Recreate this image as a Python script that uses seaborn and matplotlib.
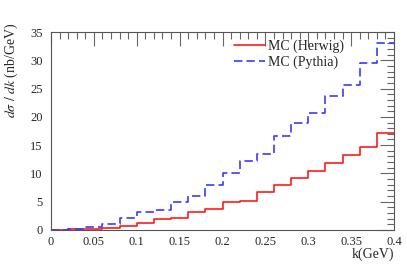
import numpy as np
import pandas as pd
import matplotlib
matplotlib.use("Agg")
import matplotlib.pyplot as plt
import seaborn as sns
from matplotlib.ticker import MultipleLocator

# bin edges in k (GeV), 0.02 wide
bin_edges = [0.00, 0.02, 0.04, 0.06, 0.08, 0.10, 0.12, 0.14, 0.16, 0.18, 0.20,
             0.22, 0.24, 0.26, 0.28, 0.30, 0.32, 0.34, 0.36, 0.38, 0.40]
herwig = [0.0, 0.1, 0.2, 0.3, 0.65, 1.3, 1.9, 2.2, 3.1, 3.8,
          4.9, 5.2, 6.7, 7.9, 9.2, 10.5, 11.8, 13.3, 14.7, 17.1]
pythia = [0.05, 0.2, 0.5, 1.1, 2.1, 3.2, 3.5, 4.9, 6.0, 8.0,
          10.1, 12.2, 13.5, 16.6, 19.0, 20.7, 23.7, 25.7, 29.6, 33.1]
labels = ["MC (Herwig)", "MC (Pythia)"]
xtick_labels = ["0", "0.05", "0.1", "0.15", "0.2", "0.25", "0.3", "0.35", "0.4"]

rows = []
for lab, vals in zip(labels, [herwig, pythia]):
    v = list(vals) + [vals[-1]]
    for x, y in zip(bin_edges, v):
        rows.append({"k": x, "val": y, "sample": lab})
df = pd.DataFrame(rows)

sns.set_theme(style="white")
plt.rcParams['font.family'] = ['Liberation Serif', 'DejaVu Serif']
plt.rcParams['mathtext.fontset'] = 'stix'

fig = plt.figure(figsize=(4.07, 2.65), dpi=100)
ax = fig.add_axes([51 / 407, 1 - 230 / 265, 343 / 407, 198 / 265])

sns.lineplot(data=df, x="k", y="val", hue="sample", style="sample",
             palette={"MC (Herwig)": "#ff1a1a", "MC (Pythia)": "#3a3aff"},
             dashes={"MC (Herwig)": "", "MC (Pythia)": (5, 2.5)},
             drawstyle="steps-post", linewidth=1.2, ax=ax)

ax.set_xlim(0, 0.4)
ax.set_ylim(0, 35)
ax.set_xticks([0, 0.05, 0.1, 0.15, 0.2, 0.25, 0.3, 0.35, 0.4])
ax.set_xticklabels(xtick_labels)
ax.xaxis.set_minor_locator(MultipleLocator(0.01))
ax.yaxis.set_major_locator(MultipleLocator(5))
ax.yaxis.set_minor_locator(MultipleLocator(1))
ax.tick_params(which="both", direction="in", top=True, right=True,
               color="#666666", labelsize=9)
ax.tick_params(axis="x", pad=4)
ax.tick_params(axis="y", pad=6)
ax.tick_params(which="major", length=10, width=0.8)
ax.tick_params(which="minor", length=5, width=0.8)
for s in ax.spines.values():
    s.set_color("#555555")
    s.set_linewidth(0.8)

ax.set_xlabel("k(GeV)", fontsize=10, loc="right", labelpad=0)
ax.set_ylabel(r"$d\sigma\ /\ dk$ (nb/GeV)", fontsize=10, loc="top")
ax.yaxis.set_label_coords(-0.09, 1.05)

ax.legend(loc="upper left", bbox_to_anchor=(222 / 407, 1 - 27 / 265),
          bbox_transform=fig.transFigure, frameon=False,
          fontsize=10, handlelength=2.2, handletextpad=0.2,
          labelspacing=0.15, title=None)

fig.savefig("out.png", dpi=100)
